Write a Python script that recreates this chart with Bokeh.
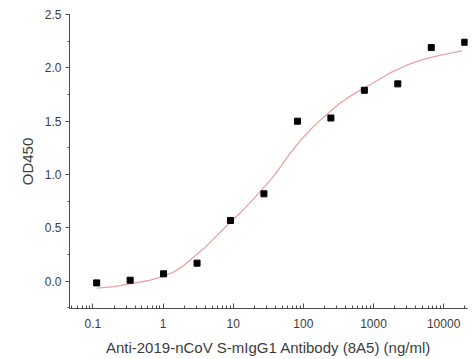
from bokeh.plotting import figure
from bokeh.embed import file_html
from bokeh.resources import INLINE
from bokeh.models import Range1d, FixedTicker, SingleIntervalTicker, CustomJSTickFormatter

# Data
conc = [0.113, 0.339, 1.016, 3.05, 9.14, 27.4, 82.3, 246.9, 740.7, 2222.2, 6666.7, 20000]
od450 = [-0.015, 0.01, 0.07, 0.17, 0.57, 0.82, 1.50, 1.53, 1.79, 1.85, 2.19, 2.24]

# Fitted curve
curve_x = [0.113, 0.2, 0.33, 0.6, 1.0, 1.4, 1.8, 2.3, 3.0, 4.0, 5.3, 7.0, 9.0, 13, 17, 25, 35, 47, 65,
           91, 130, 174, 250, 335, 480, 680, 1000, 1700, 2860, 5080, 9000, 18500]
curve_y = [-0.065, -0.05, -0.025, 0.005, 0.045, 0.085, 0.13, 0.185, 0.25, 0.32, 0.40, 0.48, 0.55, 0.65,
           0.73, 0.85, 0.96, 1.07, 1.20, 1.32, 1.43, 1.51, 1.60, 1.67, 1.74, 1.80, 1.86, 1.95, 2.02,
           2.08, 2.12, 2.16]

x_ticks = [0.1, 1, 10, 100, 1000, 10000]
x_label = "Anti-2019-nCoV S-mIgG1 Antibody (8A5) (ng/ml)"
y_label = "OD450"

FONT = "Liberation Sans"
AX = "#4a4a4a"
TXT = "#3c3c3c"

p = figure(width=468, height=358, x_axis_type="log", output_backend="svg",
           toolbar_location=None, x_range=Range1d(0.0463, 21900), y_range=Range1d(-0.255, 2.5))
p.min_border_left = 69
p.min_border_right = 1
p.min_border_top = 14
p.min_border_bottom = 49
p.outline_line_color = None
p.xgrid.visible = False
p.ygrid.visible = False
p.background_fill_color = "white"
p.border_fill_color = "white"

minor = [m * 10.0 ** k for k in range(-2, 5) for m in range(2, 10)]
p.xaxis.ticker = FixedTicker(ticks=x_ticks, minor_ticks=minor)
p.xaxis.formatter = CustomJSTickFormatter(code="return tick >= 1 ? tick.toFixed(0) : String(Math.round(tick*10)/10);")
p.yaxis.ticker = SingleIntervalTicker(interval=0.5, num_minor_ticks=2)
p.yaxis.formatter = CustomJSTickFormatter(code="return tick.toFixed(1);")

for ax in (p.xaxis[0], p.yaxis[0]):
    ax.axis_line_color = AX
    ax.major_tick_line_color = AX
    ax.minor_tick_line_color = AX
    ax.major_label_text_font = FONT
    ax.major_label_text_font_size = "12px"
    ax.major_label_text_color = TXT
    ax.axis_label_text_font = FONT
    ax.axis_label_text_font_size = "15px"
    ax.axis_label_text_font_style = "normal"
    ax.axis_label_text_color = TXT

p.xaxis.major_tick_in = 5
p.xaxis.major_tick_out = 0
p.xaxis.minor_tick_in = 3
p.xaxis.minor_tick_out = 0
p.xaxis.major_label_standoff = 10
p.xaxis.axis_label_standoff = 8
p.xaxis.axis_label = x_label

p.yaxis.major_tick_in = 0
p.yaxis.major_tick_out = 4
p.yaxis.minor_tick_in = 0
p.yaxis.minor_tick_out = 2
p.yaxis.major_label_standoff = 4
p.yaxis.axis_label_standoff = 6
p.yaxis.axis_label = y_label

p.line(curve_x, curve_y, line_color="#e8a3a3", line_width=1.3)
p.scatter(conc, od450, marker="square", size=6, fill_color="black", line_color="black")

open("out.html", "w").write(file_html(p, INLINE))
